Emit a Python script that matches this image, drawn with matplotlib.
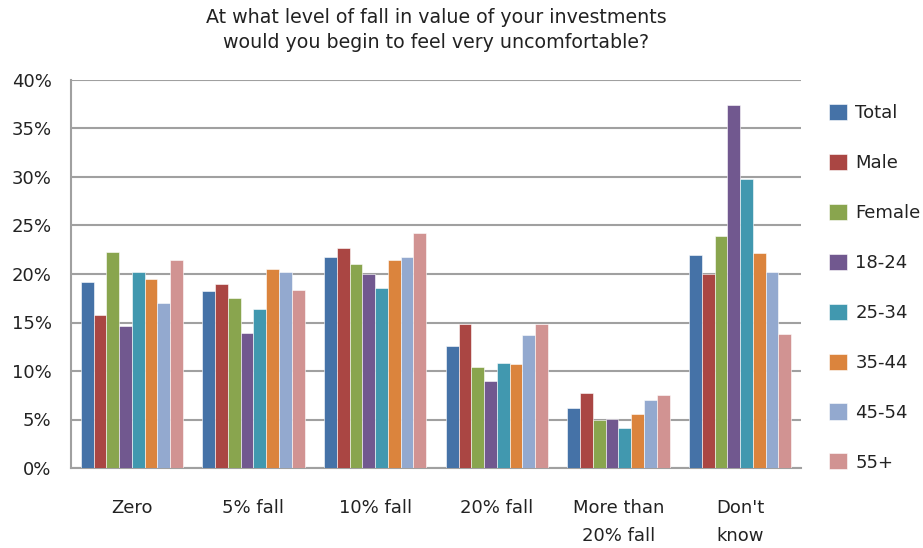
import matplotlib
matplotlib.use("Agg")
import matplotlib.pyplot as plt
import numpy as np

categories = ["Zero", "5% fall", "10% fall", "20% fall", "More than\n20% fall", "Don't\nknow"]
series_names = ["Total", "Male", "Female", "18-24", "25-34", "35-44", "45-54", "55+"]
total  = [19.2, 18.2, 21.8, 12.6, 6.2, 22.0]
male   = [15.8, 19.0, 22.7, 14.8, 7.7, 20.0]
female = [22.3, 17.5, 21.0, 10.4, 4.9, 23.9]
age_18_24 = [14.6, 13.9, 20.0, 9.0, 5.1, 37.4]
age_25_34 = [20.2, 16.4, 18.6, 10.8, 4.1, 29.8]
age_35_44 = [19.5, 20.5, 21.4, 10.7, 5.6, 22.2]
age_45_54 = [17.0, 20.2, 21.8, 13.7, 7.0, 20.2]
age_55_plus = [21.4, 18.4, 24.2, 14.8, 7.5, 13.8]
values = [total, male, female, age_18_24, age_25_34, age_35_44, age_45_54, age_55_plus]
colors = ["#4572A7", "#AA4643", "#89A54E", "#71588F", "#4198AF", "#DB843D", "#93A9CF", "#D19392"]
yticks = [0, 5, 10, 15, 20, 25, 30, 35, 40]
title = "At what level of fall in value of your investments\nwould you begin to feel very uncomfortable?"

plt.rcParams['font.family'] = ['DejaVu Sans']

fig = plt.figure(figsize=(9.23, 5.48), dpi=100)
W, H = 923, 548
ax = fig.add_axes([71 / W, 1 - 468 / H, (801 - 71) / W, (468 - 80) / H])

n = len(series_names)
x = np.arange(len(categories))
bw = 0.8385 / n
for i, (name, vals, c) in enumerate(zip(series_names, values, colors)):
    offs = (i - (n - 1) / 2) * bw
    ax.bar(x + offs, vals, width=bw, color=c, edgecolor="white", linewidth=0.4, label=name, zorder=3)

fs = 13
ax.set_xlim(-0.5, len(categories) - 0.5)
ax.set_ylim(0, 40)
ax.set_yticks(yticks)
ax.set_yticklabels([f"{t}%" for t in yticks], fontsize=fs, color="#222222")
ax.set_xticks(x)
ax.set_xticklabels(categories, fontsize=fs, color="#222222", linespacing=1.75)
ax.tick_params(axis="x", length=0, pad=22)
ax.tick_params(axis="y", length=0, pad=14)
ax.yaxis.grid(True, color="#A0A0A0", linewidth=1.5, zorder=0)
for s in ["top", "right"]:
    ax.spines[s].set_visible(False)
ax.spines["left"].set_color("#A0A0A0")
ax.spines["left"].set_linewidth(1.5)
ax.spines["bottom"].set_color("#A0A0A0")
ax.spines["bottom"].set_linewidth(1.5)

fig.text(436 / W, 1 - 30 / H, title, ha="center", va="center", fontsize=13.7, color="#222222", linespacing=1.4)

leg = ax.legend(loc="upper left", bbox_to_anchor=(822 / W, 1 - 97 / H), bbox_transform=fig.transFigure,
                frameon=False, fontsize=fs, handlelength=1.0, handleheight=1.0, labelspacing=1.75,
                handletextpad=0.45, borderaxespad=0)
for t in leg.get_texts():
    t.set_color("#222222")

fig.savefig("out.png", dpi=100)
